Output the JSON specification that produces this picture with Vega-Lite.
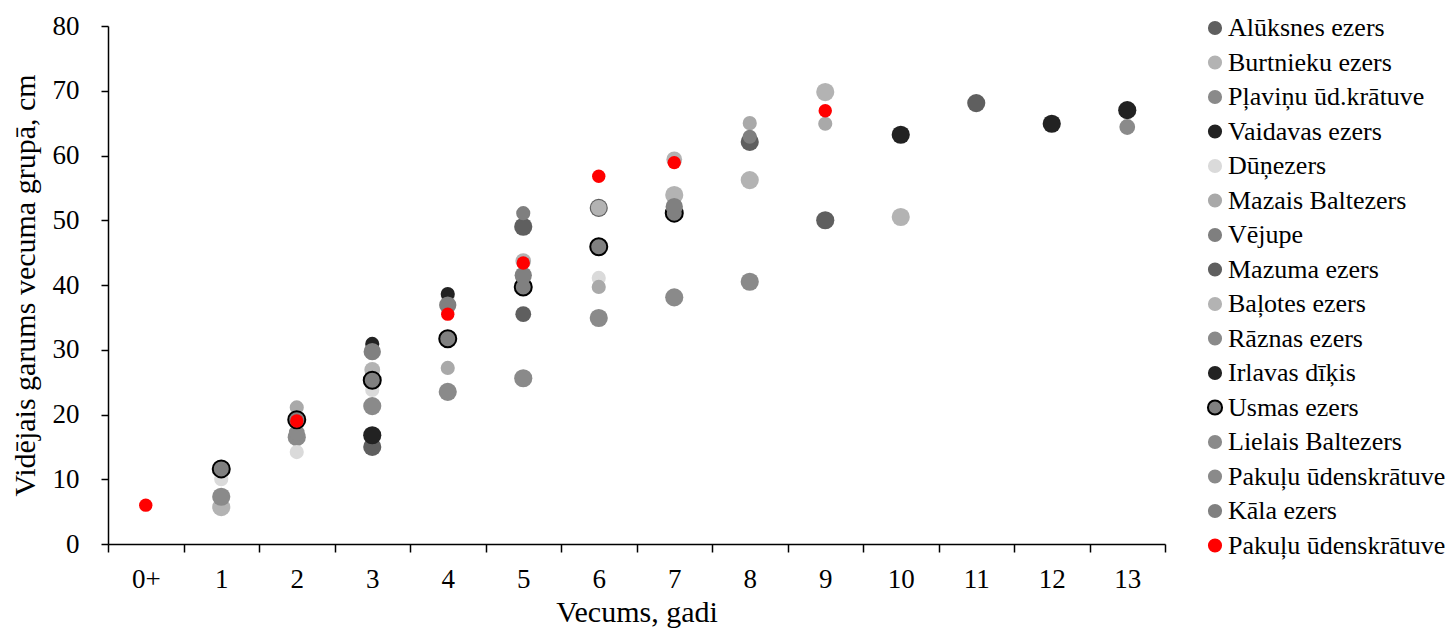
{
  "$schema": "https://vega.github.io/schema/vega-lite/v6.json",
  "autosize": "none",
  "width": 1057,
  "height": 518,
  "padding": {"left": 108, "top": 26, "right": 288, "bottom": 84},
  "background": "white",
  "config": {
    "view": {"stroke": null},
    "font": "Liberation Serif",
    "legend": {
      "labelFont": "Liberation Serif",
      "labelFontSize": 26,
      "labelColor": "#000000",
      "symbolSize": 200,
      "symbolType": "circle",
      "symbolStrokeWidth": 2,
      "rowPadding": 8.5,
      "labelOffset": 0,
      "padding": 0,
      "labelLimit": 400
    }
  },
  "data": {
    "values": [
      {"series": "Alūksnes ezers", "age": "3", "len": 15.0},
      {"series": "Alūksnes ezers", "age": "5", "len": 49.0},
      {"series": "Alūksnes ezers", "age": "6", "len": 51.9},
      {"series": "Alūksnes ezers", "age": "8", "len": 62.1},
      {"series": "Alūksnes ezers", "age": "9", "len": 50.0},
      {"series": "Alūksnes ezers", "age": "11", "len": 68.1},
      {"series": "Burtnieku ezers", "age": "1", "len": 5.7},
      {"series": "Burtnieku ezers", "age": "7", "len": 53.9},
      {"series": "Burtnieku ezers", "age": "8", "len": 56.2},
      {"series": "Burtnieku ezers", "age": "9", "len": 69.8},
      {"series": "Burtnieku ezers", "age": "10", "len": 50.5},
      {"series": "Pļaviņu ūd.krātuve", "age": "1", "len": 7.3},
      {"series": "Pļaviņu ūd.krātuve", "age": "2", "len": 16.5},
      {"series": "Pļaviņu ūd.krātuve", "age": "3", "len": 21.3},
      {"series": "Pļaviņu ūd.krātuve", "age": "4", "len": 23.5},
      {"series": "Pļaviņu ūd.krātuve", "age": "5", "len": 25.6},
      {"series": "Pļaviņu ūd.krātuve", "age": "6", "len": 34.9},
      {"series": "Pļaviņu ūd.krātuve", "age": "7", "len": 38.1},
      {"series": "Pļaviņu ūd.krātuve", "age": "8", "len": 40.5},
      {"series": "Vaidavas ezers", "age": "3", "len": 16.8},
      {"series": "Vaidavas ezers", "age": "10", "len": 63.2},
      {"series": "Vaidavas ezers", "age": "12", "len": 64.9},
      {"series": "Vaidavas ezers", "age": "13", "len": 67.0},
      {"series": "Dūņezers", "age": "1", "len": 10.0},
      {"series": "Dūņezers", "age": "2", "len": 14.2},
      {"series": "Dūņezers", "age": "3", "len": 23.8},
      {"series": "Dūņezers", "age": "4", "len": 38.3},
      {"series": "Dūņezers", "age": "6", "len": 41.1},
      {"series": "Mazais Baltezers", "age": "2", "len": 21.1},
      {"series": "Mazais Baltezers", "age": "4", "len": 27.2},
      {"series": "Mazais Baltezers", "age": "6", "len": 39.7},
      {"series": "Mazais Baltezers", "age": "8", "len": 65.0},
      {"series": "Mazais Baltezers", "age": "9", "len": 64.9},
      {"series": "Vējupe", "age": "5", "len": 51.1},
      {"series": "Vējupe", "age": "8", "len": 62.9},
      {"series": "Mazuma ezers", "age": "5", "len": 35.5},
      {"series": "Baļotes ezers", "age": "3", "len": 26.9},
      {"series": "Baļotes ezers", "age": "5", "len": 43.7},
      {"series": "Baļotes ezers", "age": "6", "len": 51.9},
      {"series": "Baļotes ezers", "age": "7", "len": 59.4},
      {"series": "Rāznas ezers", "age": "2", "len": 17.2},
      {"series": "Rāznas ezers", "age": "13", "len": 64.4},
      {"series": "Irlavas dīķis", "age": "3", "len": 30.9},
      {"series": "Irlavas dīķis", "age": "4", "len": 38.6},
      {"series": "Usmas ezers", "age": "1", "len": 11.6},
      {"series": "Usmas ezers", "age": "2", "len": 19.2},
      {"series": "Usmas ezers", "age": "3", "len": 25.3},
      {"series": "Usmas ezers", "age": "4", "len": 31.7},
      {"series": "Usmas ezers", "age": "5", "len": 39.7},
      {"series": "Usmas ezers", "age": "6", "len": 45.9},
      {"series": "Usmas ezers", "age": "7", "len": 51.1},
      {"series": "Kāla ezers", "age": "3", "len": 29.7},
      {"series": "Kāla ezers", "age": "4", "len": 36.9},
      {"series": "Kāla ezers", "age": "5", "len": 41.5},
      {"series": "Kāla ezers", "age": "7", "len": 52.1},
      {"series": "Pakuļu ūdenskrātuve 2", "age": "0+", "len": 6.0},
      {"series": "Pakuļu ūdenskrātuve 2", "age": "2", "len": 19.0},
      {"series": "Pakuļu ūdenskrātuve 2", "age": "4", "len": 35.5},
      {"series": "Pakuļu ūdenskrātuve 2", "age": "5", "len": 43.4},
      {"series": "Pakuļu ūdenskrātuve 2", "age": "6", "len": 56.8},
      {"series": "Pakuļu ūdenskrātuve 2", "age": "7", "len": 58.9},
      {"series": "Pakuļu ūdenskrātuve 2", "age": "9", "len": 66.9}
    ]
  },
  "encoding": {
    "x": {
      "field": "age",
      "type": "ordinal",
      "scale": {"type": "band", "domain": ["0+","1","2","3","4","5","6","7","8","9","10","11","12","13"], "paddingInner": 0, "paddingOuter": 0},
      "axis": {
        "title": "Vecums, gadi",
        "titleFont": "Liberation Serif",
        "titleFontSize": 30,
        "titleFontWeight": "normal",
        "titleColor": "#000000",
        "titleBaseline": "middle",
        "titleY": 68,
        "labelFont": "Liberation Serif",
        "labelFontSize": 27,
        "labelColor": "#000000",
        "labelAngle": 0,
        "labelPadding": 14,
        "tickBand": "extent",
        "tickSize": 8,
        "tickColor": "#000000",
        "tickWidth": 1.5,
        "domainColor": "#000000",
        "domainWidth": 1.5,
        "grid": false
      }
    },
    "y": {
      "field": "len",
      "type": "quantitative",
      "scale": {"domain": [0, 80], "nice": false, "zero": true},
      "axis": {
        "title": "Vidējais garums vecuma grupā, cm",
        "titleFont": "Liberation Serif",
        "titleFontSize": 30,
        "titleFontWeight": "normal",
        "titleColor": "#000000",
        "titleBaseline": "middle",
        "titleX": -83,
        "titleY": 259,
        "titleAngle": -90,
        "labelFont": "Liberation Serif",
        "labelFontSize": 27,
        "labelColor": "#000000",
        "labelPadding": 22,
        "values": [0,10,20,30,40,50,60,70,80],
        "tickSize": 7,
        "tickColor": "#000000",
        "tickWidth": 1.5,
        "domainColor": "#000000",
        "domainWidth": 1.5,
        "grid": false
      }
    },
    "fill": {
      "field": "series",
      "type": "nominal",
      "scale": {
        "domain": ["Alūksnes ezers","Burtnieku ezers","Pļaviņu ūd.krātuve","Vaidavas ezers","Dūņezers","Mazais Baltezers","Vējupe","Mazuma ezers","Baļotes ezers","Rāznas ezers","Irlavas dīķis","Usmas ezers","Lielais Baltezers","Pakuļu ūdenskrātuve","Kāla ezers","Pakuļu ūdenskrātuve 2"],
        "range": ["#5f5f5f","#b3b3b3","#8a8a8a","#222222","#dadada","#a9a9a9","#7f7f7f","#5f5f5f","#b3b3b3","#8a8a8a","#222222","#808080","#8a8a8a","#8a8a8a","#808080","#ff0000"]
      },
      "legend": {
        "title": null,
        "orient": "none",
        "legendX": 1094,
        "legendY": -11,
        "labelExpr": "replace(datum.label, ' 2', '')"
      }
    },
    "stroke": {
      "field": "series",
      "type": "nominal",
      "scale": {
        "domain": ["Alūksnes ezers","Burtnieku ezers","Pļaviņu ūd.krātuve","Vaidavas ezers","Dūņezers","Mazais Baltezers","Vējupe","Mazuma ezers","Baļotes ezers","Rāznas ezers","Irlavas dīķis","Usmas ezers","Lielais Baltezers","Pakuļu ūdenskrātuve","Kāla ezers","Pakuļu ūdenskrātuve 2"],
        "range": ["transparent","transparent","transparent","transparent","transparent","transparent","transparent","transparent","transparent","transparent","transparent","#000000","transparent","transparent","transparent","transparent"]
      },
      "legend": {
        "title": null,
        "orient": "none",
        "legendX": 1094,
        "legendY": -11,
        "labelExpr": "replace(datum.label, ' 2', '')"
      }
    }
  },
  "layer": [
    {
      "transform": [{"filter": {"field": "series", "oneOf": ["Alūksnes ezers","Burtnieku ezers","Pļaviņu ūd.krātuve","Vaidavas ezers"]}}],
      "mark": {"type": "circle", "opacity": 1, "size": 330, "strokeWidth": 2}
    },
    {
      "transform": [{"filter": {"field": "series", "oneOf": ["Dūņezers","Mazais Baltezers","Vējupe"]}}],
      "mark": {"type": "circle", "opacity": 1, "size": 200, "strokeWidth": 2}
    },
    {
      "transform": [{"filter": {"field": "series", "oneOf": ["Mazuma ezers","Baļotes ezers","Rāznas ezers"]}}],
      "mark": {"type": "circle", "opacity": 1, "size": 250, "strokeWidth": 2}
    },
    {
      "transform": [{"filter": {"field": "series", "oneOf": ["Irlavas dīķis"]}}],
      "mark": {"type": "circle", "opacity": 1, "size": 200, "strokeWidth": 2}
    },
    {
      "transform": [{"filter": {"field": "series", "oneOf": ["Usmas ezers"]}}],
      "mark": {"type": "circle", "opacity": 1, "size": 290, "strokeWidth": 2}
    },
    {
      "transform": [{"filter": {"field": "series", "oneOf": ["Lielais Baltezers","Pakuļu ūdenskrātuve","Kāla ezers"]}}],
      "mark": {"type": "circle", "opacity": 1, "size": 300, "strokeWidth": 2}
    },
    {
      "transform": [{"filter": {"field": "series", "oneOf": ["Pakuļu ūdenskrātuve 2"]}}],
      "mark": {"type": "circle", "opacity": 1, "size": 180, "strokeWidth": 2}
    }
  ]
}
